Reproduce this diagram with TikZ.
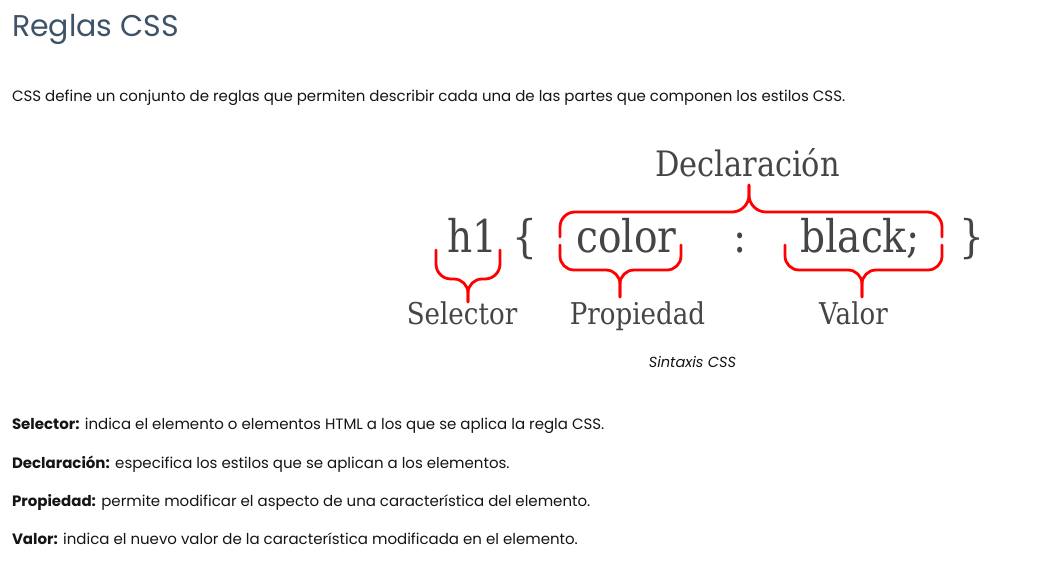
\documentclass[tikz,border=0pt]{standalone}
\usepackage{fontspec}
\setmainfont{Poppins}
\newfontfamily\slab[FakeStretch=0.87]{DejaVu Serif}
\definecolor{titlecol}{HTML}{3E5367}
\definecolor{slabcol}{HTML}{454545}
\definecolor{bodycol}{HTML}{151515}
\definecolor{bracered}{HTML}{FF0000}
\tikzset{
  txt/.style={inner sep=0pt, outer sep=0pt},
  titletxt/.style={txt, anchor=base west, text=titlecol, font=\fontsize{30bp}{35bp}\selectfont},
  bodytxt/.style={txt, anchor=base west, text=bodycol, font=\fontsize{15bp}{18bp}\selectfont},
  captxt/.style={txt, anchor=base, text=bodycol, font=\fontsize{14.6bp}{17bp}\selectfont\itshape},
  codetxt/.style={txt, anchor=base, text=slabcol, font=\slab\fontsize{45bp}{50bp}\selectfont},
  labtxt/.style={txt, anchor=base, text=slabcol, font=\slab\fontsize{30bp}{34bp}\selectfont},
  redbrace/.style={draw=bracered, line width=2.8bp, line cap=round, line join=round}
}
% #1 x1, #2 x2, #3 y0, #4 yh, #5 xm, #6 yt, #7 d (+1 tip down, -1 tip up), #8 r, #9 r2
\newcommand\mybrace[9]{%
  \draw[redbrace] (#1,#3) -- (#1,#4-#7*#8)
    .. controls (#1,#4-#7*0.448*#8) and (#1+0.448*#8,#4) .. (#1+#8,#4)
    -- (#5-#9,#4)
    .. controls (#5-0.448*#9,#4) and (#5,#4+#7*0.448*#9) .. (#5,#4+#7*#9)
    -- (#5,#6);
  \draw[redbrace] (#2,#3) -- (#2,#4-#7*#8)
    .. controls (#2,#4-#7*0.448*#8) and (#2-0.448*#8,#4) .. (#2-#8,#4)
    -- (#5+#9,#4)
    .. controls (#5+0.448*#9,#4) and (#5,#4+#7*0.448*#9) .. (#5,#4+#7*#9)
    -- (#5,#6);
}
\begin{document}
\begin{tikzpicture}[x=1bp, y=-1bp]
\useasboundingbox (0,0) rectangle (1056,566);
\fill[white] (0,0) rectangle (1056,566);

\node[titletxt] (title) at (12,37) {Reglas CSS};
\node[bodytxt] (intro) at (12,102) {CSS define un conjunto de reglas que permiten describir cada una de las partes que componen los estilos CSS.};

% diagram
\node[labtxt, font=\slab\fontsize{35bp}{39bp}\selectfont] (decl) at (747.5,177) {Declaración};
\node[codetxt] (h1) at (472.5,253) {h1};
\node[codetxt] (lb) at (524.5,253) {\{};
\node[codetxt] (color) at (626.5,253) {color};
\node[codetxt] (colon) at (740,253) {:};
\node[codetxt] (black) at (860,253) {black;};
\node[codetxt] (rb) at (971.5,253) {\}};
\node[labtxt] (sel) at (462,324) {Selector};
\node[labtxt] (prop) at (637.5,324) {Propiedad};
\node[labtxt] (val) at (853.5,324) {Valor};

\mybrace{436}{500}{250}{279}{468}{302}{1}{15}{14}
\mybrace{560}{681}{245}{270}{620}{297}{1}{14}{14}
\mybrace{785}{942}{245}{270}{862}{297}{1}{14}{14}
\mybrace{560}{942}{237}{212}{749}{185}{-1}{15}{17}

\node[captxt] (cap) at (692.5,367) {Sintaxis CSS};

\node[bodytxt] (d1) at (12,429) {\textbf{Selector:} indica el elemento o elementos HTML a los que se aplica la regla CSS.};
\node[bodytxt] (d2) at (12,468) {\textbf{Declaración:} especifica los estilos que se aplican a los elementos.};
\node[bodytxt] (d3) at (12,506) {\textbf{Propiedad:} permite modificar el aspecto de una característica del elemento.};
\node[bodytxt] (d4) at (12,544) {\textbf{Valor:} indica el nuevo valor de la característica modificada en el elemento.};
\end{tikzpicture}
\end{document}
